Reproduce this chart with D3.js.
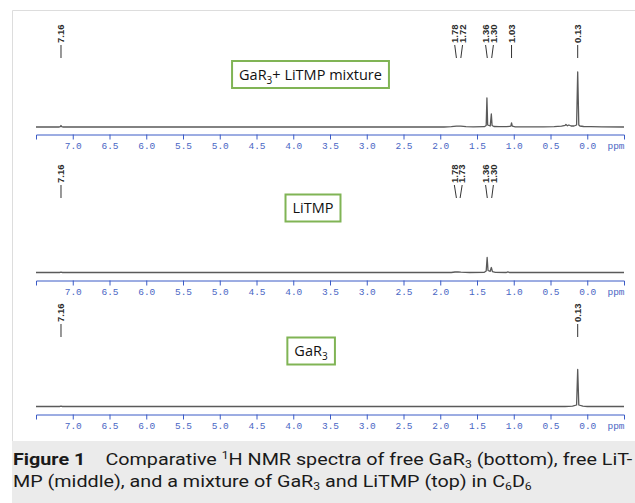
<!DOCTYPE html>
<html>
<head>
<meta charset="utf-8">
<script src="https://cdn.jsdelivr.net/npm/d3@7"></script>
<style>
  html, body { margin: 0; padding: 0; background: #fff; }
  svg { display: block; }
</style>
</head>
<body>
<svg id="chart" width="635" height="503"></svg>
<script>
// spectra: [ppm, intensity]
var topSpectrum = [
  [7.50, 0], [7.19, 0], [7.17, 0.4], [7.16, 1.5], [7.15, 0.4], [7.13, 0],
  [1.95, 0], [1.85, 0.4], [1.78, 0.9], [1.72, 0.8], [1.65, 0.3], [1.55, 0.1],
  [1.40, 0.3], [1.375, 1.5], [1.365, 29], [1.355, 2], [1.32, 1], [1.305, 13],
  [1.295, 1.5], [1.27, 0.5], [1.20, 0.3], [1.10, 0.3], [1.04, 0.8], [1.03, 4],
  [1.02, 0.8], [0.98, 0.2], [0.60, 0.1], [0.45, 0.4], [0.35, 0.8], [0.30, 1.7],
  [0.29, 2.5], [0.27, 1.2], [0.25, 2], [0.22, 1], [0.18, 1], [0.145, 2],
  [0.13, 55], [0.115, 2], [0.10, 1], [0.05, 0.5], [-0.05, 0.3], [-0.20, 0.1], [-0.50, 0]
];
var midSpectrum = [
  [7.50, 0], [7.18, 0], [7.16, 0.4], [7.14, 0], [1.85, 0], [1.80, 0.5],
  [1.76, 0.6], [1.72, 0.3], [1.60, 0], [1.40, 0.2], [1.375, 1.5], [1.362, 15],
  [1.35, 2], [1.32, 1.2], [1.305, 5], [1.29, 0.8], [1.25, 0.2], [1.10, 0],
  [1.08, 0.7], [1.06, 0], [-0.50, 0]
];
var botSpectrum = [
  [7.50, 0], [7.18, 0], [7.16, 0.4], [7.14, 0], [0.30, 0], [0.20, 0.3],
  [0.145, 1.5], [0.13, 37], [0.115, 1.5], [0.06, 0.3], [0.00, 0], [-0.50, 0]
];

var topPeaks = [7.16, 1.78, 1.72, 1.36, 1.30, 1.03, 0.13];
var midPeaks = [7.16, 1.78, 1.73, 1.36, 1.30];
var botPeaks = [7.16, 0.13];

var topTitle = [["GaR", ""], ["3", "sub"], ["+ LiTMP mixture", ""]];
var midTitle = [["LiTMP", ""]];
var botTitle = [["GaR", ""], ["3", "sub"]];

var majorTicks = d3.range(14, -1, -1).map(function (i) { return i * 0.5; });
var minorTicks = d3.range(75, -51, -1).map(function (i) { return i / 10; });

var svg = d3.select('#chart');

// frame + caption area
svg.append('rect').attr('x', 12).attr('y', 441).attr('width', 623).attr('height', 62)
  .attr('fill', '#ebebeb');
svg.append('path').attr('d', 'M12.5,441 V10.5 H635')
  .attr('fill', 'none').attr('stroke', '#dddddd').attr('stroke-width', 1);

var x = d3.scaleLinear().domain([7.5, -0.5]).range([36, 624]);
var yI = d3.scaleLinear().domain([0, 60]).range([0, -60]);

var line = d3.line()
  .x(function (d) { return x(d[0]); })
  .y(function (d) { return yI(d[1]); });

var panels = [
  { spec: topSpectrum, peaks: topPeaks, title: topTitle, baseY: 127, axisY: 134.5, lineEnd: 58, boxX: 310.5, boxY: 74.5 },
  { spec: midSpectrum, peaks: midPeaks, title: midTitle, baseY: 272.5, axisY: 280.5, lineEnd: 198, boxX: 313, boxY: 208 },
  { spec: botSpectrum, peaks: botPeaks, title: botTitle, baseY: 406.5, axisY: 414.5, lineEnd: 337, boxX: 311, boxY: 351 }
];

function spreadLabels(peaks, gap) {
  var xs = peaks.map(function (p) { return { ppm: p, px: x(p) }; })
    .sort(function (a, b) { return a.px - b.px; });
  var groups = [];
  xs.forEach(function (d) {
    var g = groups[groups.length - 1];
    if (g && d.px - g[g.length - 1].px < gap) g.push(d);
    else groups.push([d]);
  });
  groups.forEach(function (g) {
    var c = d3.mean(g, function (d) { return d.px; });
    g.forEach(function (d, i) { d.lx = c + (i - (g.length - 1) / 2) * gap; });
  });
  return xs;
}

panels.forEach(function (p) {
  // axis
  var ax = svg.append('g').attr('transform', 'translate(0,' + p.axisY + ')');
  ax.call(d3.axisBottom(x).tickValues(minorTicks).tickSize(2.5).tickSizeOuter(0).tickFormat(''));
  ax.call(d3.axisBottom(x).tickValues(majorTicks).tickSize(5).tickSizeOuter(5)
    .tickPadding(3).tickFormat(d3.format('.1f')));
  ax.selectAll('path, line').attr('stroke', '#3b5bc6');
  ax.selectAll('text').attr('fill', '#4a66c4')
    .style('font-family', '"Liberation Mono", "DejaVu Sans Mono", monospace')
    .style('font-size', '9.5px');
  ax.append('text').attr('x', 616).attr('y', 8).attr('dy', '0.71em')
    .attr('text-anchor', 'middle').attr('fill', '#4a66c4')
    .style('font-family', '"Liberation Mono", monospace').style('font-size', '9.5px')
    .text('ppm');

  // spectrum
  var g = svg.append('g').attr('transform', 'translate(0,' + p.baseY + ')');
  g.append('path').datum(p.spec).attr('d', line)
    .attr('fill', 'none').attr('stroke', '#5a5a5a').attr('stroke-width', 1.3)
    .attr('stroke-linejoin', 'round');

  // peak labels
  var labs = spreadLabels(p.peaks, 7.8);
  var lg = svg.append('g');
  lg.selectAll('line').data(labs).enter().append('line')
    .attr('x1', function (d) { return d.lx; }).attr('y1', p.lineEnd - 13)
    .attr('x2', function (d) { return d.px; }).attr('y2', p.lineEnd)
    .attr('stroke', '#333').attr('stroke-width', 1);
  lg.selectAll('text').data(labs).enter().append('text')
    .attr('transform', function (d) { return 'translate(' + d.lx + ',' + (p.lineEnd - 15) + ') rotate(-90)'; })
    .attr('dy', '0.35em')
    .style('font-family', '"Liberation Sans", Arial, sans-serif')
    .style('font-size', '9.5px').style('font-weight', 'bold').attr('fill', '#2a2a2a')
    .text(function (d) { return d.ppm.toFixed(2); });

  // title box
  var bg = svg.append('g');
  var rect = bg.append('rect');
  var t = bg.append('text').attr('x', p.boxX).attr('y', p.boxY).attr('dy', '0.35em')
    .attr('text-anchor', 'middle')
    .style('font-family', '"Open Sans", "Noto Sans", sans-serif').style('font-size', '14.5px')
    .attr('fill', '#111');
  p.title.forEach(function (s, i) {
    var ts = t.append('tspan').text(s[0]);
    if (s[1] === 'sub') ts.attr('dy', 4).style('font-size', '10px');
    else if (i > 0 && p.title[i - 1][1] === 'sub') ts.attr('dy', -4);
  });
  var bb = t.node().getBBox();
  rect.attr('x', bb.x - 7).attr('y', p.boxY - 13.5).attr('width', bb.width + 14).attr('height', 27)
    .attr('fill', '#fff').attr('stroke', '#80b455').attr('stroke-width', 2);
});

// caption
var cap = svg.append('g')
  .style('font-family', '"Liberation Sans Narrow", "Roboto", "Noto Sans", sans-serif')
  .style('font-size', '17px').attr('fill', '#1a1a1a');

var line1 = [["Figure 1", "b"], ["\u2003Comparative ", ""], ["1", "sup"], ["H NMR spectra of free GaR", ""],
  ["3", "sub"], [" (bottom), free LiT-", ""]];
var line2 = [["MP (middle), and a mixture of GaR", ""], ["3", "sub"], [" and LiTMP (top) in C", ""],
  ["6", "sub"], ["D", ""], ["6", "sub"]];

function capLine(parts, y) {
  var t = cap.append('text').attr('x', 0).attr('y', y).attr('xml:space', 'preserve');
  var shift = 0;
  parts.forEach(function (s) {
    var ts = t.append('tspan').text(s[0]);
    var want = s[1] === 'sub' ? 3 : s[1] === 'sup' ? -6 : 0;
    if (want !== shift) { ts.attr('dy', want - shift); shift = want; }
    if (s[1] === 'sub' || s[1] === 'sup') ts.style('font-size', '10.5px');
    if (s[1] === 'b') ts.style('font-weight', 'bold');
  });
  return t;
}
var c1 = capLine(line1, 465);
var c2 = capLine(line2, 487);
var sx = 620 / c1.node().getComputedTextLength();
cap.attr('transform', 'translate(13,0) scale(' + sx + ',1)');
</script>
</body>
</html>
